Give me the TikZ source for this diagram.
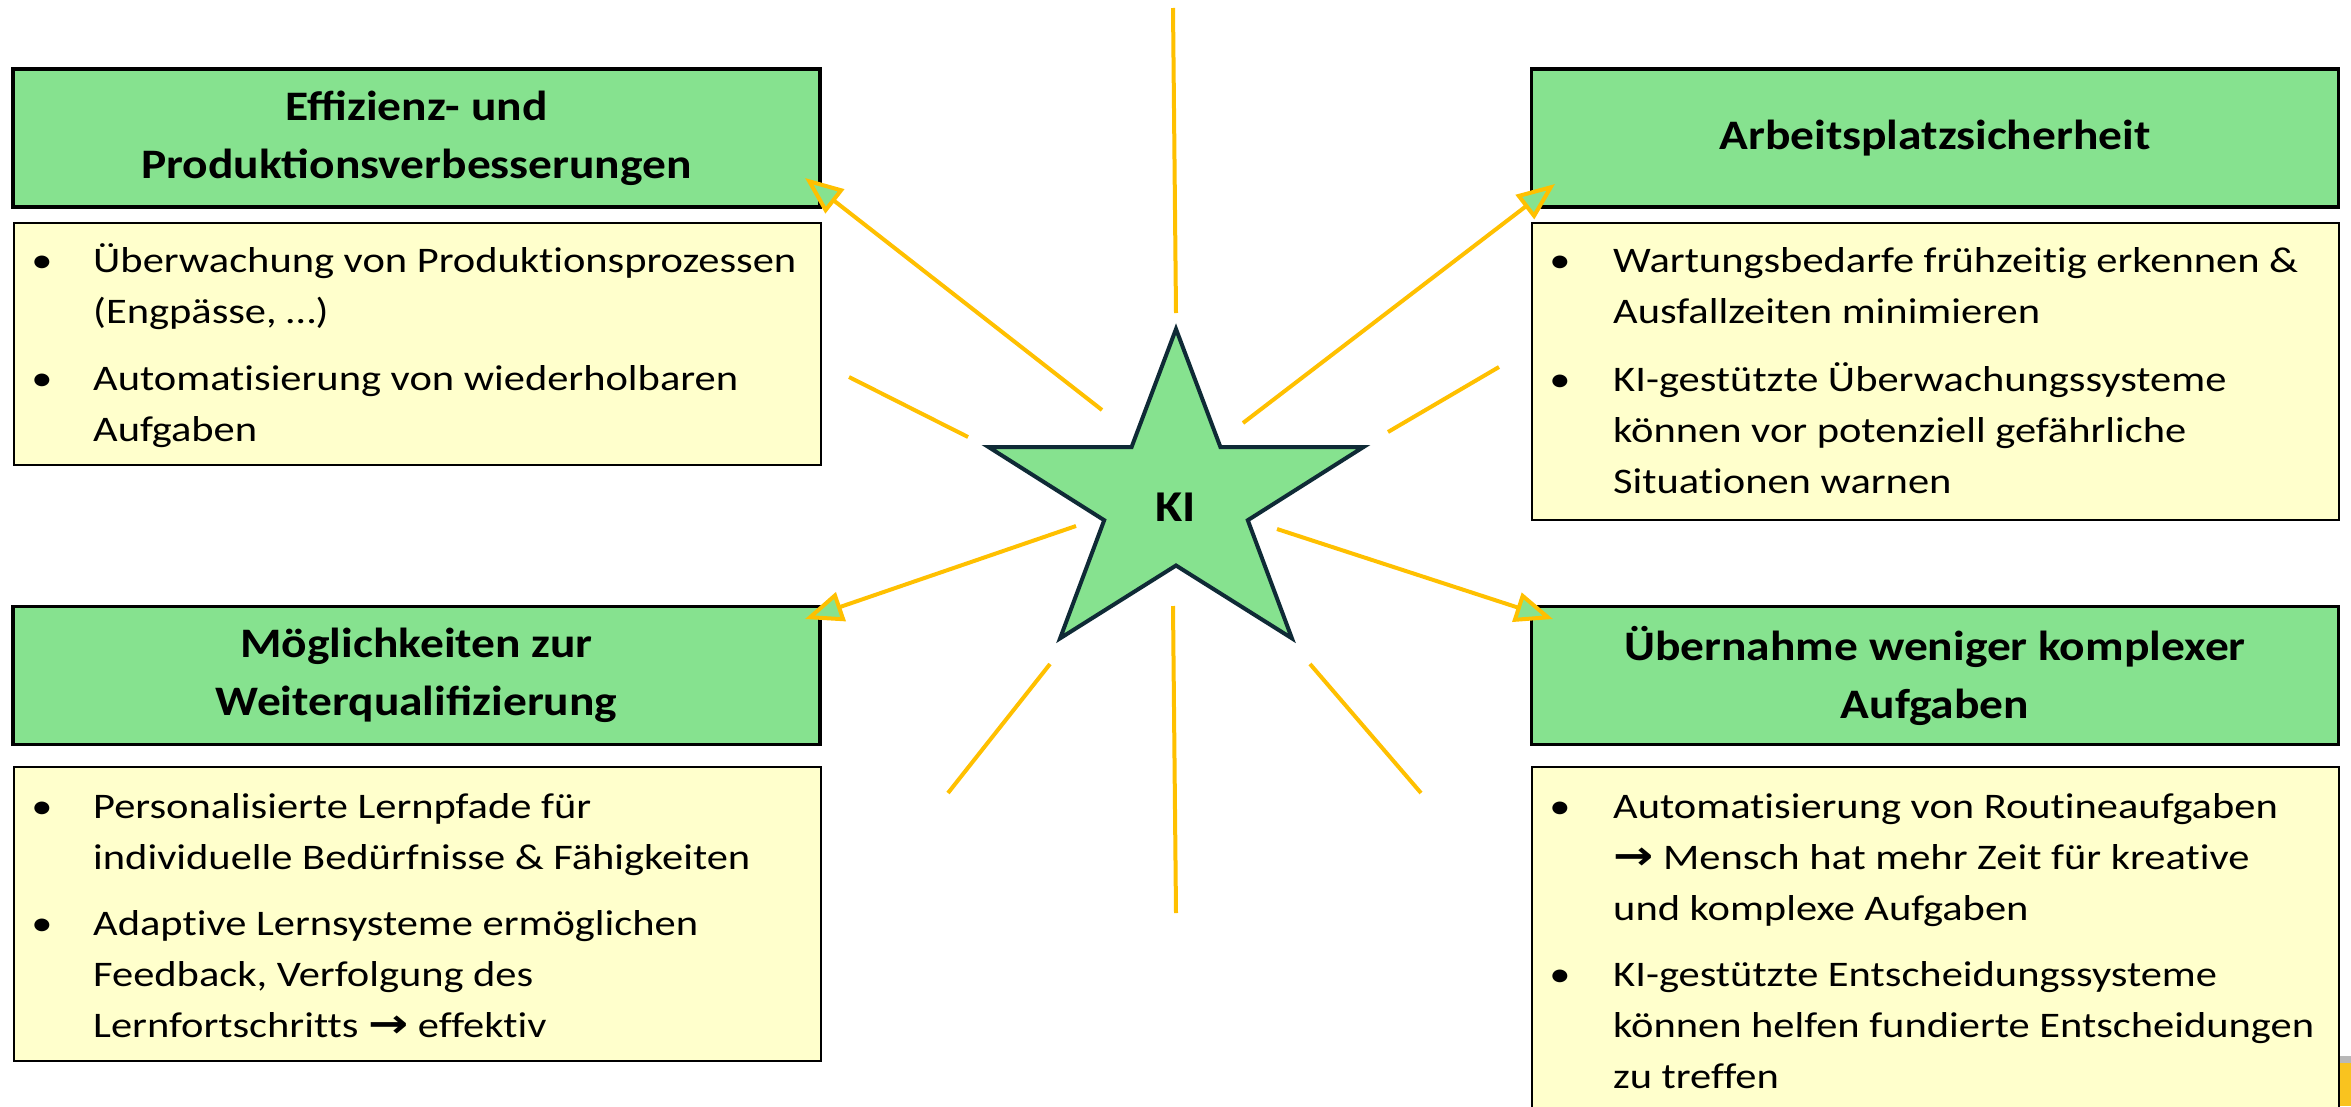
\documentclass[tikz,border=0pt]{standalone}
\usepackage{fontspec}
\setmainfont{Carlito}[FakeStretch=1.18, Ligatures={NoCommon}]
\newfontfamily\headfont{Carlito}[FakeStretch=1.13]
\newfontfamily\arrowfont{DejaVu Sans}[FakeStretch=1.2]
\usetikzlibrary{arrows.meta}

\definecolor{kigreen}{HTML}{86E28F}
\definecolor{kiyellow}{HTML}{FFFFCC}
\definecolor{rayc}{HTML}{FFC000}
\definecolor{starline}{HTML}{0F2A36}
\definecolor{slidegold}{HTML}{F9C31F}
\definecolor{slidegray}{HTML}{B8B8B8}

\newcommand{\ra}{{\arrowfont\bfseries\fontsize{40}{51}\selectfont →}}

\tikzset{
  headbox/.style={draw=black, line width=3.5pt, fill=kigreen, inner sep=0pt,
    minimum width=807pt, minimum height=138pt, align=center,
    font=\headfont\fontsize{42}{58}\selectfont\bfseries},
  bodybox/.style={draw=black, line width=2pt, fill=kiyellow, inner sep=0pt,
    minimum width=807pt, anchor=north west},
  bul/.style={anchor=base, inner sep=0pt, font=\fontsize{36}{51}\selectfont},
  itm/.style={anchor=base west, inner sep=0pt, font=\fontsize{36}{51}\selectfont},
  ray/.style={draw=rayc, line width=4pt},
  rayarrow/.style={ray, line join=miter,
    -{Triangle[length=38pt, width=30pt, fill=kigreen]}},
  kistar/.style={fill=kigreen, draw=starline, line width=4pt, line join=miter},
}

\begin{document}
\begin{tikzpicture}[x=1pt, y=-1pt]
  \path[use as bounding box, fill=white] (0,0) rectangle (2351,1106);
  \clip (0,0) rectangle (2351,1106);

  % edge of the neighbouring slide
  \fill[slidegray] (2340,1056) rectangle (2351,1063);
  \fill[slidegold] (2340,1063) rectangle (2351,1106);

  % ---------- header boxes ----------
  \node[headbox] (h1) at (416.5,138) {Effizienz- und\\Produktionsverbesserungen};
  \node[headbox] (h2) at (1935,138) {Arbeitsplatzsicherheit};
  \node[headbox] (h3) at (416.5,675.5) {Möglichkeiten zur\\Weiterqualifizierung};
  \node[headbox] (h4) at (1935,675.5) {Übernahme weniger komplexer\\Aufgaben};

  % ---------- body boxes ----------
  \node[bodybox, minimum height=242pt] (b1) at (13,222) {};
  \node[bodybox, minimum height=297pt] (b2) at (1531,222) {};
  \node[bodybox, minimum height=294pt] (b3) at (13,766) {};
  \node[bodybox, minimum height=360pt] (b4) at (1531,766) {};

  % top left
  \node[bul] (b1d1) at (42,272) {\textbullet};
  \node[itm] (b1t1) at (93,272) {\parbox[t]{740pt}{Überwachung von Produktionsprozessen\\(Engpässe, …)}};
  \node[bul] (b1d2) at (42,390) {\textbullet};
  \node[itm] (b1t2) at (93,390) {\parbox[t]{740pt}{Automatisierung von wiederholbaren\\Aufgaben}};

  % top right
  \node[bul] (b2d1) at (1560,272) {\textbullet};
  \node[itm] (b2t1) at (1613,272) {\parbox[t]{740pt}{Wartungsbedarfe frühzeitig erkennen \&\\Ausfallzeiten minimieren}};
  \node[bul] (b2d2) at (1560,391) {\textbullet};
  \node[itm] (b2t2) at (1613,391) {\parbox[t]{740pt}{KI-gestützte Überwachungssysteme\\können vor potenziell gefährliche\\Situationen warnen}};

  % bottom left
  \node[bul] (b3d1) at (42,818) {\textbullet};
  \node[itm] (b3t1) at (93,818) {\parbox[t]{740pt}{Personalisierte Lernpfade für\\individuelle Bedürfnisse \& Fähigkeiten}};
  \node[bul] (b3d2) at (42,935) {\textbullet};
  \node[itm] (b3t2) at (93,935) {\parbox[t]{740pt}{Adaptive Lernsysteme ermöglichen\\Feedback, Verfolgung des\\Lernfortschritts \ra{} effektiv}};

  % bottom right
  \node[bul] (b4d1) at (1560,818) {\textbullet};
  \node[itm] (b4t1) at (1613,818) {\parbox[t]{740pt}{Automatisierung von Routineaufgaben\\\ra{} Mensch hat mehr Zeit für kreative\\und komplexe Aufgaben}};
  \node[bul] (b4d2) at (1560,986) {\textbullet};
  \node[itm] (b4t2) at (1613,986) {\parbox[t]{740pt}{KI-gestützte Entscheidungssysteme\\können helfen fundierte Entscheidungen\\zu treffen}};

  % ---------- central star ----------
  \draw[kistar] (1176,329) -- (1220.4,447) -- (1363.5,447) -- (1247.8,520.2)
    -- (1291.9,638.3) -- (1176,565.5) -- (1060.1,638.3) -- (1104.2,520.2)
    -- (988.5,447) -- (1131.6,447) -- cycle;
  \node[font=\headfont\fontsize{44}{52}\selectfont\bfseries, inner sep=0pt] (ki) at (1176,507) {KI};

  % ---------- rays ----------
  \coordinate (s1) at (1102,410);  \coordinate (t1) at (805,178);
  \coordinate (s2) at (1243,423);  \coordinate (t2) at (1555,184);
  \coordinate (s3) at (1076,526);  \coordinate (t3) at (805,619);
  \coordinate (s4) at (1277,529);  \coordinate (t4) at (1553,619);
  \draw[rayarrow] (s1) -- (t1);
  \draw[rayarrow] (s2) -- (t2);
  \draw[rayarrow] (s3) -- (t3);
  \draw[rayarrow] (s4) -- (t4);

  \coordinate (u1) at (1173,8);    \coordinate (u2) at (1176,313);
  \coordinate (d1) at (1173,606);  \coordinate (d2) at (1176,913);
  \coordinate (l1) at (849,377);   \coordinate (l2) at (968,437);
  \coordinate (r1) at (1499,367);  \coordinate (r2) at (1388,432);
  \coordinate (ll1) at (1050,664); \coordinate (ll2) at (948,793);
  \coordinate (lr1) at (1310,664); \coordinate (lr2) at (1421,793);
  \draw[ray] (u1) -- (u2);
  \draw[ray] (d1) -- (d2);
  \draw[ray] (l1) -- (l2);
  \draw[ray] (r1) -- (r2);
  \draw[ray] (ll1) -- (ll2);
  \draw[ray] (lr1) -- (lr2);
\end{tikzpicture}
\end{document}
